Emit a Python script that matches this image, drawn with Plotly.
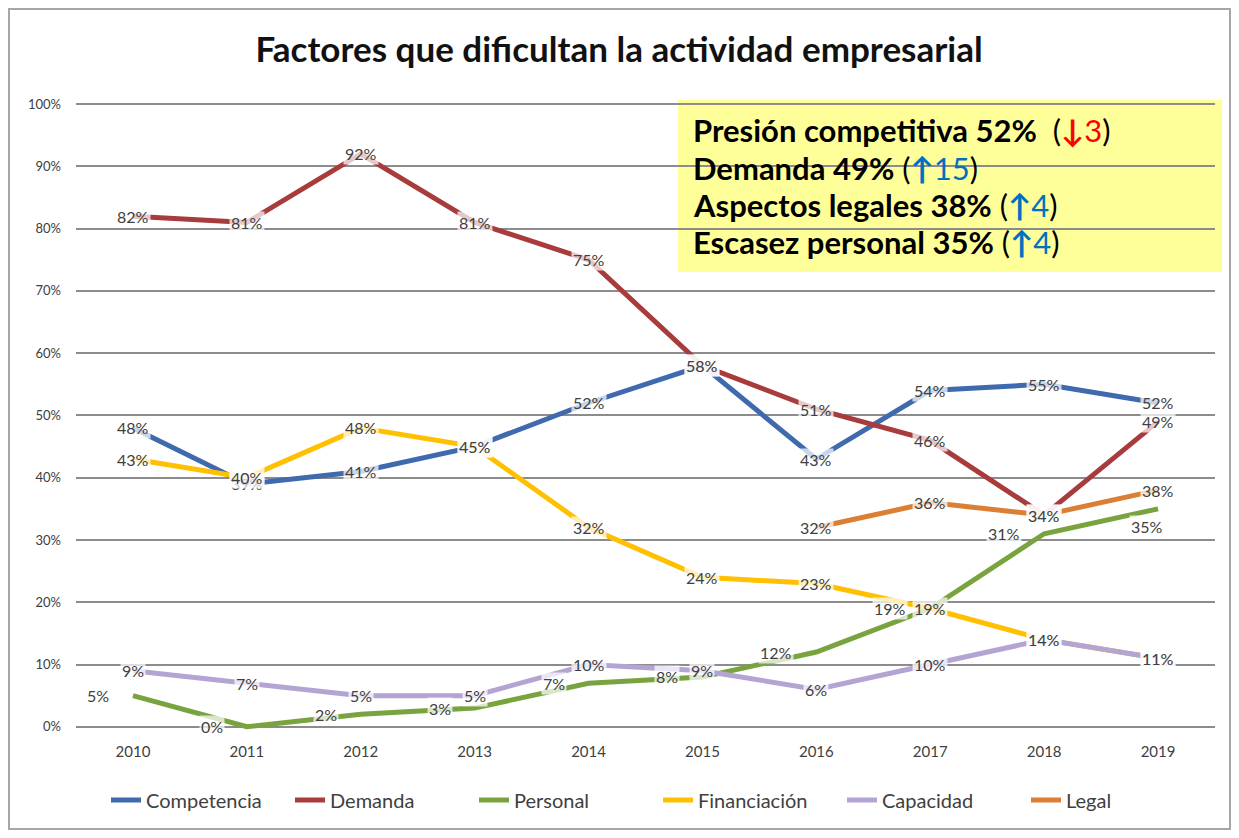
import plotly.graph_objects as go

YEARS = ['2010', '2011', '2012', '2013', '2014', '2015', '2016', '2017', '2018', '2019']
COMPETENCIA = [48, 39, 41, 45, 52, 58, 43, 54, 55, 52]
DEMANDA = [82, 81, 92, 81, 75, 58, 51, 46, 34, 49]
PERSONAL = [5, 0, 2, 3, 7, 8, 12, 19, 31, 35]
FINANCIACION = [43, 40, 48, 45, 32, 24, 23, 19, 14, 11]
CAPACIDAD = [9, 7, 5, 5, 10, 9, 6, 10, 14, 11]
LEGAL = [None, None, None, None, None, None, 32, 36, 34, 38]

SERIES = [
    ('Competencia', COMPETENCIA, '#3F6AAE'),
    ('Demanda', DEMANDA, '#A83B3B'),
    ('Personal', PERSONAL, '#79A33E'),
    ('Financiación', FINANCIACION, '#FFC000'),
    ('Capacidad', CAPACIDAD, '#B3A4D3'),
    ('Legal', LEGAL, '#DB7F35'),
]

FONT = 'Lato'
LABEL_COLOR = '#404040'

# la página añade 8px de margen al body: se compensa
OFF = 8
W, H = 1239 - 2 * OFF, 838 - 2 * OFF
L, R, T, B = 76 - OFF, 1239 - 1215 - OFF, 101 - OFF, 838 - 733 - OFF
pw, ph = W - L - R, H - T - B


def px_x(x):
    return (x - OFF - L) / pw


def px_y(y):
    return (H - B - (y - OFF)) / ph


fig = go.Figure()
annotations = []
for name, values, color in SERIES:
    fig.add_trace(go.Scatter(
        x=YEARS, y=values, name=name, mode='lines',
        line=dict(color=color, width=5), hoverinfo='skip',
    ))
    # etiquetas de datos (centradas, salvo Personal a la izquierda)
    for i, v in enumerate(values):
        if v is None:
            continue
        label = dict(x=i, y=v, text=f'{v}%', showarrow=False,
                     font=dict(family=FONT, size=16, color=LABEL_COLOR),
                     bgcolor='rgba(255,255,255,0.72)', borderpad=1)
        if name == 'Personal':
            if i == len(values) - 1:
                label.update(xshift=-11, yshift=-18)
            else:
                label.update(xanchor='right', xshift=-22)
        annotations.append(label)

# recuadro amarillo
BOX_LINES = [
    "<b>Presión competitiva 52%</b>\u00a0\u00a0(<b><span style='color:#FF0000'>↓</span></b><span style='color:#FF0000'>3</span>)",
    "<b>Demanda 49%</b> (<b><span style='color:#0070C0'>↑</span></b><span style='color:#0070C0'>15</span>)",
    "<b>Aspectos legales 38%</b> (<b><span style='color:#0070C0'>↑</span></b><span style='color:#0070C0'>4</span>)",
    "<b>Escasez personal 35%</b> (<b><span style='color:#0070C0'>↑</span></b><span style='color:#0070C0'>4</span>)",
]

for k, line in enumerate(BOX_LINES):
    annotations.append(dict(
        xref='paper', yref='paper', x=px_x(691), y=px_y(130 + k * 37.5),
        xanchor='left', yanchor='middle', text=line, showarrow=False,
        font=dict(family=FONT, size=31, color='black'),
    ))

fig.update_layout(
    width=W, height=H,
    margin=dict(l=L, r=R, t=T, b=B, autoexpand=False),
    paper_bgcolor='white', plot_bgcolor='white',
    title=dict(text='<b>Factores que dificultan la actividad empresarial</b>',
               x=(619 - OFF) / W, xanchor='center', y=1 - (50 - OFF) / H, yanchor='middle',
               font=dict(family=FONT, size=35, color='#111111')),
    annotations=annotations,
    legend=dict(orientation='h', x=px_x(106), xanchor='left', y=px_y(800), yanchor='middle',
                entrywidth=139, font=dict(family=FONT, size=20, color=LABEL_COLOR)),
    shapes=[
        dict(type='rect', xref='paper', yref='paper', layer='below',
             x0=px_x(678), x1=px_x(1222), y0=px_y(272), y1=px_y(100),
             fillcolor='#FFFF99', line=dict(width=0)),
        dict(type='rect', xref='paper', yref='paper',
             x0=px_x(9), x1=px_x(1230), y0=px_y(829), y1=px_y(9),
             line=dict(color='#A6A6A6', width=2)),
    ],
)
fig.update_xaxes(type='category', range=[-0.5, 9.5], showgrid=False, zeroline=False,
                 showline=False, ticks='', ticklabelstandoff=8,
                 tickfont=dict(family=FONT, size=15, color=LABEL_COLOR))
fig.update_yaxes(range=[-1, 100.5], tickvals=list(range(0, 101, 10)),
                 ticktext=[f'{v}%' for v in range(0, 101, 10)], ticklabelstandoff=14,
                 showgrid=True, gridcolor='#8C8C8C', gridwidth=1.5, zeroline=False,
                 tickfont=dict(family=FONT, size=13, color=LABEL_COLOR))

fig.write_html('out.html')
